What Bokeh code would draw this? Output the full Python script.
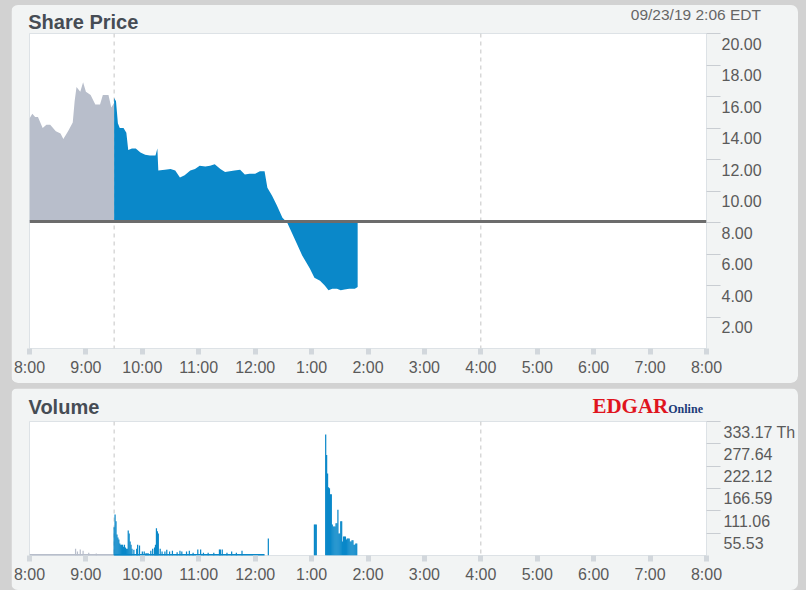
from bokeh.plotting import figure
from bokeh.models import FixedTicker, Span, Range1d, LinearAxis
from bokeh.layouts import column
from bokeh.embed import file_html
from bokeh.resources import INLINE

# ---------------- data ----------------
hour_ticks = [8, 9, 10, 11, 12, 13, 14, 15, 16, 17, 18, 19, 20]
hour_labels = ["8:00", "9:00", "10:00", "11:00", "12:00", "1:00", "2:00",
               "3:00", "4:00", "5:00", "6:00", "7:00", "8:00"]
market_open = "09:30"
market_close = "16:00"
prev_close = 8.06
stamp = "09/23/19  2:06 EDT"

price_ticks = [2, 4, 6, 8, 10, 12, 14, 16, 18, 20]
volume_ticks = [55.53, 111.06, 166.59, 222.12, 277.64, 333.17]
volume_labels = ["55.53", "111.06", "166.59", "222.12", "277.64", "333.17 Th"]

pre_times = ["08:00", "08:03", "08:06", "08:09", "08:14", "08:18", "08:22", "08:28",
             "08:33", "08:36", "08:41", "08:46", "08:48", "08:50", "08:54", "08:57",
             "09:00", "09:05", "09:10", "09:15", "09:18", "09:24", "09:27", "09:30"]
pre_price = [14.6, 14.9, 14.7, 14.7, 14.0, 14.2, 14.2, 13.8,
             13.65, 13.3, 13.8, 14.35, 15.7, 16.6, 16.3, 16.9,
             16.3, 16.1, 15.5, 15.5, 16.1, 16.1, 15.3, 15.6]

mkt_times = ["09:30", "09:32", "09:33", "09:34", "09:36", "09:40", "09:43", "09:45", "09:49", "09:53",
             "09:58", "10:03", "10:08", "10:14", "10:16", "10:17", "10:24", "10:30", "10:35", "10:40",
             "10:45", "10:51", "10:56", "11:01", "11:07", "11:12", "11:17", "11:23", "11:28", "11:33",
             "11:38", "11:44", "11:49", "11:54", "12:00", "12:05", "12:10", "12:13", "12:18", "12:23",
             "12:29", "12:34", "12:39", "12:44", "12:50", "12:58", "13:03", "13:09", "13:14", "13:18",
             "13:22", "13:27", "13:31", "13:35", "13:40", "13:46", "13:49"]
mkt_price = [15.9, 15.7, 15.0, 14.3, 14.0, 14.0, 13.7, 12.6, 12.7, 12.7,
             12.45, 12.3, 12.25, 12.25, 12.7, 11.3, 11.35, 11.4, 11.3, 10.85,
             11.0, 11.3, 11.4, 11.6, 11.55, 11.6, 11.7, 11.4, 11.2, 11.25,
             11.3, 11.35, 11.05, 11.1, 11.1, 11.25, 11.25, 10.2, 9.7, 9.1,
             8.3, 8.0, 7.35, 6.7, 5.9, 5.1, 4.5, 4.3, 4.0, 3.7,
             3.8, 3.8, 3.7, 3.75, 3.8, 3.8, 3.9]

pre_vol_times = ["08:49", "08:51", "08:54", "08:57", "09:03", "09:11"]
pre_vol = [17, 10, 15, 12, 7, 5]

mkt_vol_times = ["09:30", "09:31", "09:32", "09:33", "09:34", "09:35", "09:36", "09:37", "09:38", "09:39",
                 "09:40", "09:41", "09:42", "09:43", "09:44", "09:45", "09:46", "09:47", "09:48", "09:49",
                 "09:51", "09:54", "09:55", "09:57", "10:00", "10:02", "10:04", "10:06", "10:09", "10:11",
                 "10:13", "10:14", "10:15", "10:16", "10:17", "10:19", "10:21", "10:24", "10:26", "10:29",
                 "10:32", "10:37", "10:40", "10:42", "10:47", "10:50", "10:54", "10:59", "11:02", "11:05",
                 "11:10", "11:16", "11:22", "11:23", "11:25", "11:30", "11:35", "11:40", "11:46", "12:14",
                 "13:03", "13:04", "13:05",
                 "13:15", "13:16", "13:17", "13:18", "13:19", "13:20", "13:21", "13:22", "13:23", "13:24",
                 "13:25", "13:26", "13:27", "13:28", "13:29", "13:30", "13:31", "13:32", "13:33", "13:34",
                 "13:35", "13:36", "13:37", "13:38", "13:39", "13:40", "13:41", "13:42", "13:43", "13:44",
                 "13:45", "13:46", "13:47", "13:48"]
mkt_vol = [70, 102, 85, 52, 45, 40, 30, 27, 27, 27,
           22, 27, 20, 17, 17, 62, 55, 35, 27, 17,
           14, 17, 27, 25, 10, 10, 6, 6, 12, 17,
           20, 27, 68, 60, 55, 17, 10, 10, 14, 10,
           12, 8, 12, 10, 10, 12, 7, 15, 15, 7,
           7, 7, 15, 15, 15, 7, 10, 7, 12, 42,
           77, 77, 77,
           301, 250, 204, 170, 167, 152, 152, 77, 72, 72,
           72, 80, 80, 114, 55, 55, 85, 85, 35, 47,
           47, 47, 40, 42, 42, 42, 35, 35, 38, 38,
           27, 27, 30, 30]
quiet_end = "12:10"


def to_h(t):
    hh, mm = t.split(":")
    return int(hh) + int(mm) / 60.0


# ---------------- style ----------------
BLUE = "#0a88c9"
GREY_AREA = "#b8becb"
PANEL = "#f2f4f4"
OUTER = "#d2d2d2"
FRAME = "#dde2e6"
TICK = "#d2d7dc"
LABEL_C = "#5a5a5a"
TITLE_C = "#464c54"
FONT = "Liberation Sans"
SERIF = "Liberation Serif"
W = 787

# header text anchor positions along the time axis (layout only)
TITLE_X = 8.954
STAMP_X = 19.80
VOLUME_X = 8.61
EDGAR_X = 18.65
ONLINE_X = 19.63


def style_common(p):
    p.xgrid.visible = False
    p.ygrid.visible = False
    xa = p.xaxis[0]
    xa.ticker = FixedTicker(ticks=hour_ticks)
    xa.major_label_overrides = {h: s for h, s in zip(hour_ticks, hour_labels)}
    xa.axis_line_color = None
    xa.major_tick_line_color = TICK
    xa.major_tick_line_width = 5
    xa.major_tick_in = 0
    xa.major_tick_out = 6
    xa.minor_tick_line_color = None
    xa.major_label_standoff = 4
    xa.major_label_text_font = FONT
    xa.major_label_text_font_size = "16px"
    xa.major_label_text_color = LABEL_C
    for t in (market_open, market_close):
        p.add_layout(Span(location=to_h(t), dimension="height", line_color="#c4c4c4",
                          line_width=1, line_dash="4 4", level="underlay"))


def style_yaxis(ax, ticks, labels, shift, standoff):
    ax.ticker = FixedTicker(ticks=[v - shift for v in ticks], minor_ticks=ticks)
    ax.major_label_overrides = {v - shift: s for v, s in zip(ticks, labels)}
    ax.axis_line_color = None
    ax.major_tick_line_color = None
    ax.major_tick_out = 0
    ax.major_tick_in = 0
    ax.minor_tick_line_color = "#c9cdd2"
    ax.minor_tick_out = 14
    ax.minor_tick_in = 0
    ax.major_label_standoff = standoff
    ax.major_label_text_font = FONT
    ax.major_label_text_font_size = "16px"
    ax.major_label_text_color = LABEL_C


def header_text(p, pos, text, standoff, font, size, style, color):
    # a tick-label-only axis in the header band above the frame
    ax = LinearAxis(ticker=FixedTicker(ticks=[pos]), major_label_overrides={pos: text},
                    axis_line_color=None,
                    major_tick_line_color=None, minor_tick_line_color=None,
                    major_tick_in=0, major_tick_out=0, minor_tick_in=0, minor_tick_out=0,
                    major_label_standoff=standoff, major_label_text_font=font,
                    major_label_text_font_size=size, major_label_text_font_style=style,
                    major_label_text_color=color)
    p.add_layout(ax, "above")


# ---------------- top: share price ----------------
top_frame_h = 315
pmax = price_ticks[-1]
top = figure(width=W, height=382, x_range=Range1d(8, 20), y_range=Range1d(0, pmax),
             output_backend="svg", toolbar_location=None, title=None,
             y_axis_location="right",
             min_border_left=18, min_border_right=90, min_border_top=32, min_border_bottom=35,
             background_fill_color="white", border_fill_color=PANEL,
             outline_line_color=FRAME,
             styles={"border-radius": "7px", "overflow": "hidden",
                     "clip-path": "inset(4px 0px 0px 0px round 7px)"})
style_common(top)
style_yaxis(top.yaxis[0], price_ticks, [f"{v:.2f}" for v in price_ticks],
            10.0 / (top_frame_h / pmax), 1)

top.varea(x=[to_h(t) for t in pre_times], y1=prev_close, y2=pre_price,
          fill_color=GREY_AREA)
top.varea(x=[to_h(t) for t in mkt_times], y1=prev_close, y2=mkt_price,
          fill_color=BLUE)
top.add_layout(Span(location=prev_close, dimension="width", line_color="#6c6c6c",
                    line_width=3))

header_text(top, STAMP_X + 0.05, stamp, 11, FONT, "15.5px", "normal", "#666666")
header_text(top, TITLE_X, "Share Price", -30, FONT, "20px", "bold", TITLE_C)

# ---------------- bottom: volume ----------------
bot_frame_h = 134
vmax = volume_ticks[-1]
bot = figure(width=W, height=202, x_range=top.x_range, y_range=Range1d(0, vmax),
             output_backend="svg", toolbar_location=None, title=None,
             y_axis_location="right",
             min_border_left=18, min_border_right=90, min_border_top=33, min_border_bottom=35,
             background_fill_color="white", border_fill_color=PANEL,
             outline_line_color=FRAME,
             styles={"border-radius": "7px", "overflow": "hidden"})
style_common(bot)
style_yaxis(bot.yaxis[0], volume_ticks, volume_labels, 10.5 / (bot_frame_h / vmax), 3)

bot.line(x=[to_h(pre_times[0]), to_h(market_open)], y=[0, 0], line_color=GREY_AREA, line_width=3)
bot.line(x=[to_h(market_open), to_h(quiet_end)], y=[0, 0], line_color=BLUE, line_width=3)
bot.vbar(x=[to_h(t) for t in pre_vol_times], top=pre_vol, width=1.3 / 60,
         fill_color=GREY_AREA, line_color=None)
bot.vbar(x=[to_h(t) for t in mkt_vol_times], top=mkt_vol, width=1.3 / 60,
         fill_color=BLUE, line_color=None)

header_text(bot, ONLINE_X, "Online", 6, SERIF, "12px", "bold", "#1d3b78")
header_text(bot, VOLUME_X, "Volume", -19, FONT, "20px", "bold", TITLE_C)
header_text(bot, EDGAR_X, "EDGAR", -25, SERIF, "21px", "bold", "#e0141e")

layout = column(top, bot, spacing=5,
                styles={"background-color": OUTER, "padding": "1px 8px 0px 11px"})

open("out.html", "w").write(file_html(layout, INLINE))
